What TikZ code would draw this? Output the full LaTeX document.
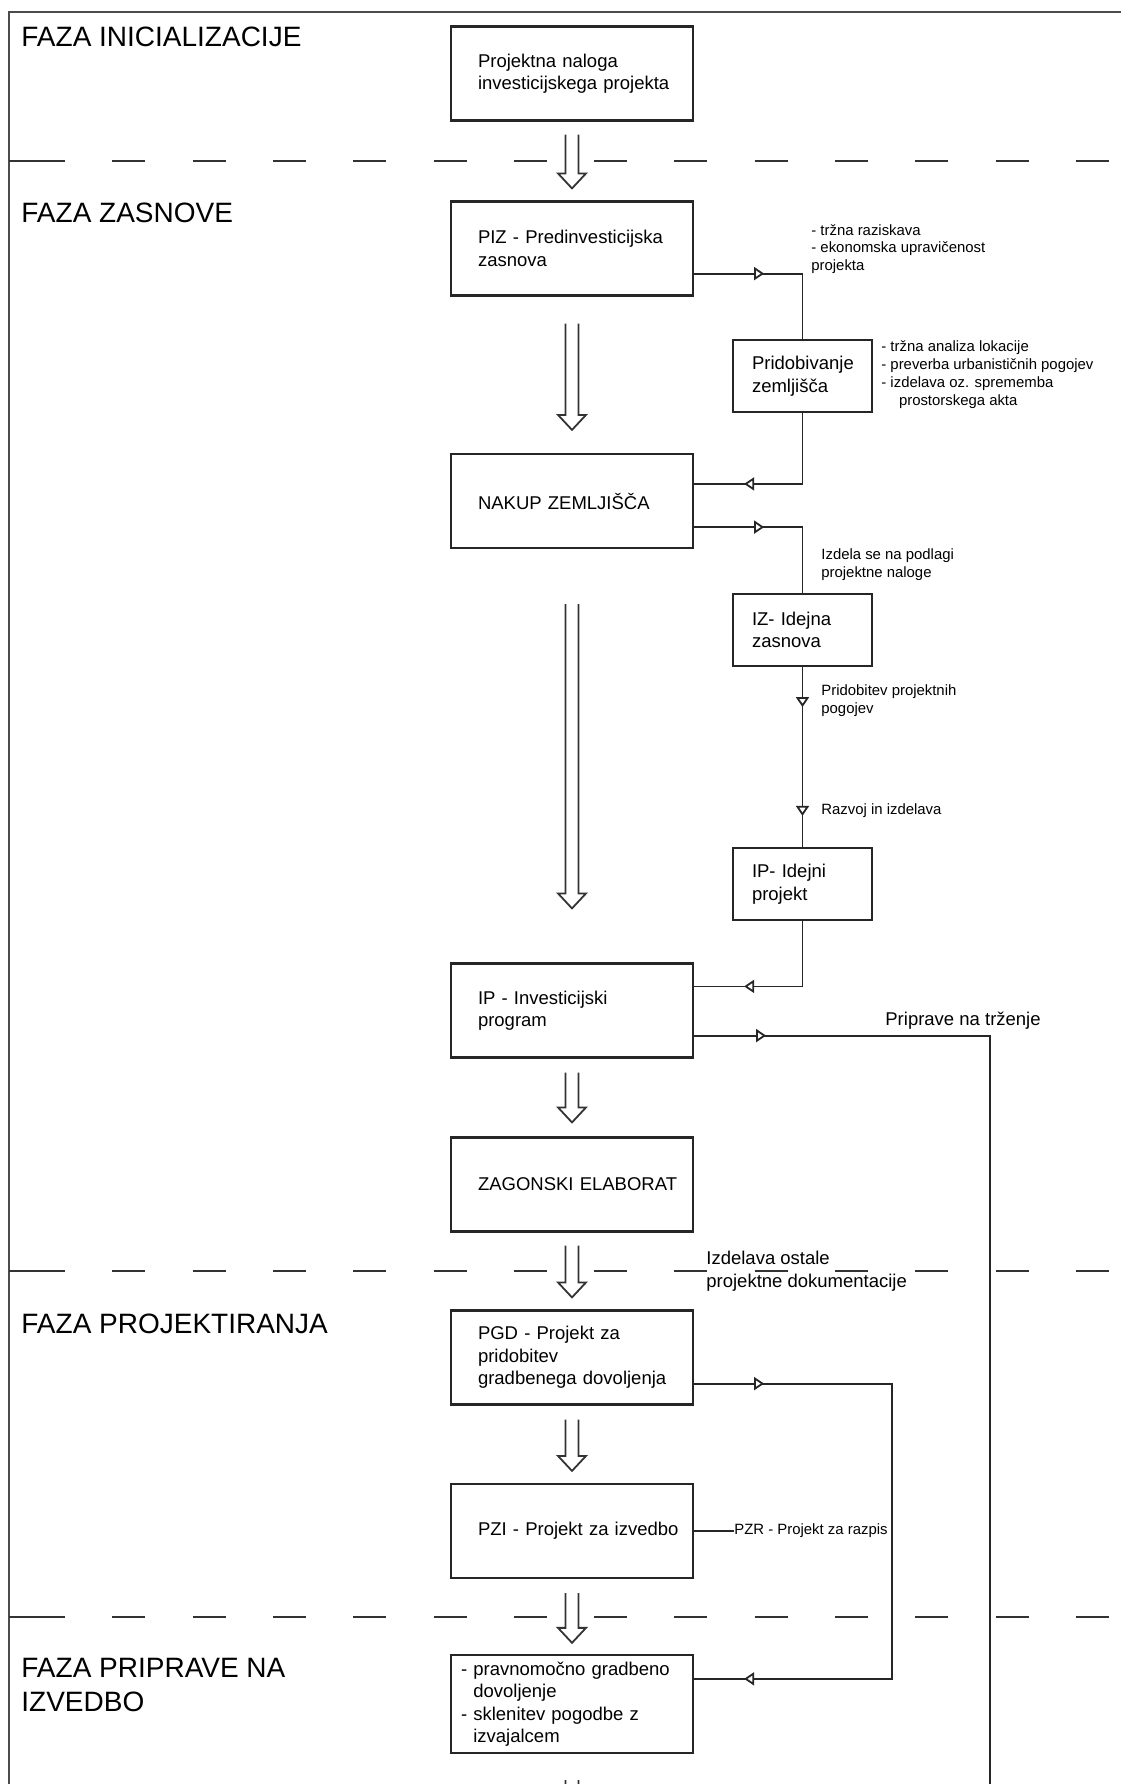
\documentclass[tikz,border=0pt]{standalone}
\usepackage{fontspec}
\setmainfont{Liberation Sans}
\usetikzlibrary{arrows.meta,decorations.markings,calc}

\newcommand\fazafont{\fontsize{14}{17}\selectfont}
\newcommand\boxtextfont{\fontsize{9.25}{11.25}\selectfont}
\newcommand\notetextfont{\fontsize{7.45}{8.9}\selectfont}

% hollow double arrow between two boxes
\newcommand\bigarrow[4]{%
  \draw[bigarr] ($#1+(-6.5,#3)$) -- ($#2+(-6.5,-#4-15)$) -- ($#2+(-14,-#4-15)$)
    -- ($#2+(0,-#4)$) -- ($#2+(14,-#4-15)$) -- ($#2+(6.5,-#4-15)$) -- ($#1+(6.5,#3)$);}

\tikzset{
  oarr/.tip={Triangle[fill=white,length=5pt,width=6.5pt]},
  box/.style={draw=black!85, line width=1.1pt, minimum width=121pt, minimum height=47pt,
    text width=107.5pt, inner xsep=6.75pt, align=left, font=\boxtextfont,
    execute at begin node={\leftskip=6.75pt}},
  smallbox/.style={box, minimum width=69.5pt, minimum height=36pt, text width=61.5pt,
    inner xsep=4pt, execute at begin node={\leftskip=5.5pt}},
  listbox/.style={box, text width=111pt, inner xsep=5pt, execute at begin node={\leftskip=0pt}},
  conn/.style={draw=black!85, line width=0.9pt},
  tipat/.style={postaction={decorate,decoration={markings,mark=at position #1 with {\arrow{oarr}}}}},
  bigarr/.style={draw=black!80, line width=0.9pt},
  sepline/.style={draw=black!80, line width=1pt},
  frame/.style={draw=black!70, line width=1.2pt},
}

\begin{document}
\begin{tikzpicture}[x=0.5pt, y=-0.5pt]
\useasboundingbox (0,0) rectangle (1120,1784);

\draw[frame] (9,1840) -- (9,12) -- (1140,12);
\foreach \y in {161,1271,1617} {
  \draw[sepline] (9,\y) -- (32,\y);
  \draw[sepline, dash pattern=on 16.5pt off 23.65pt] (32,\y) -- (1140,\y);
}

\begin{scope}[every node/.style={anchor=west, inner sep=0, align=left, font=\fazafont}]
  \node (h1) at (21,37)   {FAZA INICIALIZACIJE};
  \node (h2) at (21,213)  {FAZA ZASNOVE};
  \node (h3) at (21,1324) {FAZA PROJEKTIRANJA};
  \node (h4) at (21,1685) {FAZA PRIPRAVE NA\\IZVEDBO};
\end{scope}

\node[box] (nalog) at (572,73.5)  {Projektna naloga\\investicijskega projekta};
\node[box] (piz)   at (572,248.5) {PIZ - Predinvesticijska\\zasnova};
\node[box] (nakup) at (572,501)   {NAKUP ZEMLJIŠČA};
\node[box] (ipinv) at (572,1010.5) {IP - Investicijski\\program};
\node[box] (zag)   at (572,1184.5) {ZAGONSKI ELABORAT};
\node[box] (pgd)   at (572,1357.5) {PGD - Projekt za\\pridobitev\\gradbenega dovoljenja};
\node[box] (pzi)   at (572,1531)  {PZI - Projekt za izvedbo};
\node[listbox] (izved) at (572,1704) {- pravnomočno gradbeno\\\phantom{- }dovoljenje\\- sklenitev pogodbe z\\\phantom{- }izvajalcem};

\node[smallbox] (prid) at (802.5,376) {Pridobivanje\\zemljišča};
\node[smallbox] (iz)   at (802.5,630) {IZ- Idejna\\zasnova};
\node[smallbox] (idp)  at (802.5,884) {IP- Idejni\\projekt};

\begin{scope}[every node/.style={anchor=west, inner sep=0, align=left, font=\notetextfont}]
  \node (n1) at (811,249)   {- tržna raziskava\\- ekonomska upravičenost\\projekta};
  \node (n2) at (881,374.5) {- tržna analiza lokacije\\- preverba urbanističnih pogojev\\- izdelava oz. sprememba\\\hspace*{8.8pt}prostorskega akta};
  \node (n3) at (821,564.5) {Izdela se na podlagi\\projektne naloge};
  \node (n4) at (821,701)   {Pridobitev projektnih\\pogojev};
  \node (n5) at (821,811)   {Razvoj in izdelava};
  \node (pzr) at (734,1531) {PZR - Projekt za razpis};
\end{scope}

\node[anchor=west, inner sep=0, font=\boxtextfont] (trz) at (885,1021) {Priprave na trženje};
\node[anchor=west, inner sep=0, font=\boxtextfont, align=left] (ostale) at (706,1271) {Izdelava ostale\\projektne dokumentacije};

\bigarrow{(nalog.south)}{(piz.north)}{13}{12}
\bigarrow{(piz.south)}{(nakup.north)}{27}{23}
\bigarrow{(nakup.south)}{(ipinv.north)}{55}{54}
\bigarrow{(ipinv.south)}{(zag.north)}{14}{14}
\bigarrow{(zag.south)}{(pgd.north)}{13}{12}
\bigarrow{(pgd.south)}{(pzi.north)}{14}{12}
\bigarrow{(pzi.south)}{(izved.north)}{14}{11}
\coordinate (dalje) at (572,1840);
\bigarrow{(izved.south)}{(dalje)}{26}{0}

\coordinate (trzenje) at (990,1840);
\draw[conn, tipat=35pt] ($(piz.south east)+(0,-23)$) -| (prid.north);
\draw[conn, tipat=-25pt] (prid.south) |- ($(nakup.north east)+(0,31)$);
\draw[conn, tipat=35pt] ($(nakup.south east)+(0,-22)$) -| (iz.north);
\draw[conn, tipat=20pt, tipat=-15.5pt] (iz) -- (idp);
\draw[conn, tipat=-25pt] (idp.south) |- ($(ipinv.north east)+(0,24)$);
\draw[conn, tipat=36pt] ($(ipinv.south east)+(0,-23)$) -| (trzenje);
\draw[conn, tipat=35pt, tipat=-25pt] ($(pgd.south east)+(0,-22)$) -| ($(izved.north east)+(198,25)$) -- ($(izved.north east)+(0,25)$);
\draw[conn] (pzi) -- (pzr);

\end{tikzpicture}
\end{document}
